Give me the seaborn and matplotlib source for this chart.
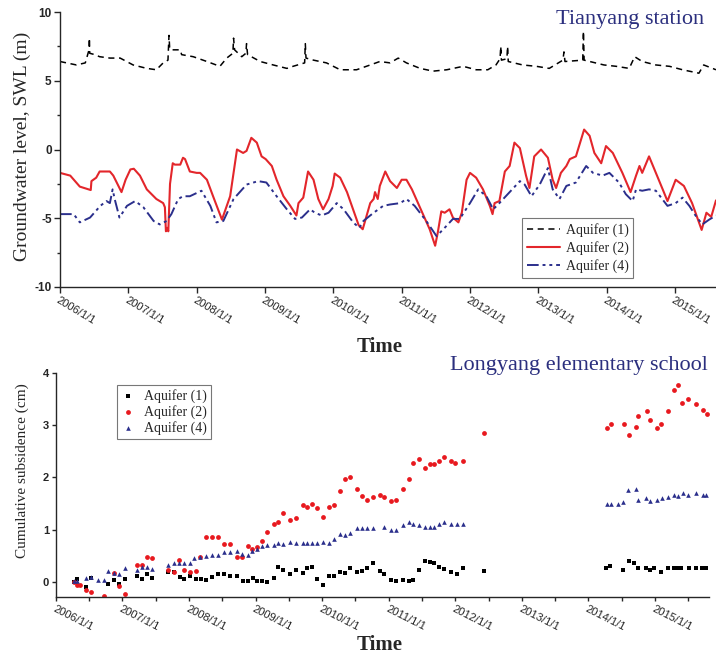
import numpy as np
import pandas as pd
import matplotlib
matplotlib.use("Agg")
import matplotlib.pyplot as plt
import seaborn as sns
from matplotlib.ticker import MultipleLocator, FixedLocator

# ---------------- data (decimal years) ----------------
year_ticks = [2006, 2007, 2008, 2009, 2010, 2011, 2012, 2013, 2014, 2015]
year_labels = ["2006/1/1", "2007/1/1", "2008/1/1", "2009/1/1", "2010/1/1",
               "2011/1/1", "2012/1/1", "2013/1/1", "2014/1/1", "2015/1/1"]

# Top panel: groundwater level (m)
aq1_t = [2006.00, 2006.24, 2006.37, 2006.425, 2006.43, 2006.435, 2006.51, 2006.58, 2006.73, 2006.88,
         2007.07, 2007.27, 2007.41, 2007.51, 2007.58, 2007.595, 2007.605, 2007.62, 2007.76, 2007.78,
         2007.95, 2008.15, 2008.34, 2008.44, 2008.53, 2008.54, 2008.555, 2008.66, 2008.72, 2008.73,
         2008.745, 2008.93, 2009.12, 2009.32, 2009.41, 2009.58, 2009.59, 2009.60, 2009.71, 2009.90,
         2010.10, 2010.34, 2010.54, 2010.68, 2010.83, 2010.95, 2011.07, 2011.27, 2011.46, 2011.66,
         2011.90, 2012.09, 2012.26, 2012.38, 2012.44, 2012.45, 2012.46, 2012.54, 2012.55, 2012.56,
         2012.77, 2012.97, 2013.16, 2013.36, 2013.375, 2013.39, 2013.65, 2013.66, 2013.67, 2013.96,
         2014.14, 2014.33, 2014.41, 2014.52, 2014.72, 2014.92, 2015.11, 2015.35, 2015.42, 2015.60]
aq1_v = [6.4, 6.15, 6.3, 7.25, 8.1, 7.0, 6.9, 6.75, 6.65, 6.65,
         6.15, 5.9, 5.8, 6.3, 6.5, 8.3, 7.35, 7.25, 7.25, 6.9,
         6.75, 6.4, 6.05, 6.65, 7.0, 8.1, 7.25, 6.75, 7.0, 7.7,
         6.9, 6.4, 6.15, 5.9, 6.05, 6.3, 7.7, 6.65, 6.5, 6.3,
         5.8, 5.8, 6.15, 6.4, 6.3, 6.65, 6.3, 5.9, 5.7, 5.8,
         6.05, 5.8, 5.8, 6.15, 6.6, 7.5, 6.5, 6.6, 7.5, 6.4,
         6.15, 6.05, 5.9, 6.5, 7.1, 6.4, 6.5, 8.6, 6.5, 6.15,
         6.05, 5.9, 6.75, 6.4, 6.15, 6.05, 5.8, 5.55, 6.15, 5.8]

aq2_t = [2006.00, 2006.15, 2006.29, 2006.45, 2006.46, 2006.53, 2006.58, 2006.73, 2006.78, 2006.90,
         2006.96, 2007.03, 2007.08, 2007.17, 2007.27, 2007.41, 2007.51, 2007.535, 2007.55, 2007.57,
         2007.585, 2007.61, 2007.65, 2007.68, 2007.76, 2007.80, 2007.83, 2007.90, 2008.00, 2008.05,
         2008.15, 2008.24, 2008.37, 2008.49, 2008.59, 2008.68, 2008.73, 2008.80, 2008.88, 2008.95,
         2009.01, 2009.10, 2009.17, 2009.27, 2009.37, 2009.46, 2009.49, 2009.56, 2009.63, 2009.71,
         2009.78, 2009.85, 2009.93, 2009.99, 2010.02, 2010.10, 2010.20, 2010.37, 2010.43, 2010.54,
         2010.59, 2010.61, 2010.65, 2010.68, 2010.76, 2010.83, 2010.93, 2011.00, 2011.07, 2011.15,
         2011.32, 2011.41, 2011.49, 2011.53, 2011.58, 2011.63, 2011.70, 2011.75, 2011.83, 2011.88,
         2011.95, 2012.00, 2012.09, 2012.19, 2012.29, 2012.33, 2012.36, 2012.43, 2012.51, 2012.58,
         2012.65, 2012.73, 2012.82, 2012.87, 2012.94, 2013.04, 2013.14, 2013.21, 2013.26, 2013.33,
         2013.41, 2013.46, 2013.55, 2013.67, 2013.75, 2013.82, 2013.92, 2013.99, 2014.09, 2014.23,
         2014.35, 2014.43, 2014.48, 2014.52, 2014.62, 2014.72, 2014.82, 2014.89, 2015.01, 2015.13,
         2015.25, 2015.39, 2015.46, 2015.53, 2015.60]
aq2_v = [-1.7, -1.9, -2.7, -2.95, -2.3, -2.05, -1.6, -1.6, -1.9, -3.1,
         -2.2, -1.45, -1.4, -1.9, -2.9, -3.6, -3.9, -4.2, -5.95, -5.7,
         -5.95, -2.5, -1.0, -1.1, -1.1, -0.6, -0.7, -1.6, -1.7, -1.7,
         -2.2, -3.4, -5.1, -3.4, 0.0, -0.25, -0.1, 0.85, 0.5, -0.5,
         -0.7, -1.2, -2.2, -3.4, -4.1, -4.8, -3.9, -3.5, -1.6, -2.2,
         -3.6, -4.35, -3.6, -2.65, -1.75, -2.05, -3.1, -5.5, -5.8, -3.9,
         -3.6, -3.1, -3.6, -2.65, -1.6, -2.3, -2.8, -2.2, -2.2, -2.9,
         -4.8, -5.8, -7.0, -6.0, -4.5, -4.6, -4.35, -4.95, -5.3, -4.6,
         -2.2, -1.7, -2.05, -2.9, -4.1, -4.7, -3.9, -3.75, -1.6, -1.2,
         0.5, 0.1, -1.9, -2.8, -0.5, 0.0, -0.6, -2.2, -2.8, -1.7,
         -1.2, -0.7, -0.5, 1.45, 1.0, -0.25, -1.0, 0.25, -0.25, -1.7,
         -3.1, -1.9, -1.2, -1.7, -0.5, -1.7, -2.9, -3.75, -2.2, -2.65,
         -3.9, -5.85, -4.6, -4.9, -3.7]

aq4_t = [2006.00, 2006.20, 2006.29, 2006.44, 2006.59, 2006.68, 2006.73, 2006.77, 2006.80, 2006.87,
         2006.98, 2007.10, 2007.22, 2007.37, 2007.46, 2007.56, 2007.63, 2007.73, 2007.80, 2007.90,
         2008.07, 2008.20, 2008.29, 2008.39, 2008.54, 2008.73, 2008.90, 2009.02, 2009.17, 2009.32,
         2009.44, 2009.54, 2009.66, 2009.73, 2009.83, 2009.93, 2010.05, 2010.15, 2010.29, 2010.38,
         2010.44, 2010.59, 2010.73, 2010.83, 2010.98, 2011.07, 2011.19, 2011.36, 2011.51, 2011.61,
         2011.75, 2011.85, 2012.00, 2012.12, 2012.24, 2012.34, 2012.43, 2012.58, 2012.73, 2012.80,
         2012.90, 2013.02, 2013.14, 2013.21, 2013.31, 2013.41, 2013.55, 2013.70, 2013.80, 2013.94,
         2014.04, 2014.18, 2014.28, 2014.38, 2014.43, 2014.52, 2014.62, 2014.72, 2014.89, 2015.01,
         2015.11, 2015.21, 2015.30, 2015.40, 2015.50, 2015.60]
aq4_v = [-4.7, -4.7, -5.3, -4.95, -4.1, -3.75, -3.9, -2.9, -3.6, -4.95,
         -4.1, -3.75, -4.2, -5.2, -5.45, -5.2, -4.7, -3.6, -3.4, -3.4,
         -3.0, -4.1, -5.3, -5.2, -3.6, -2.55, -2.3, -2.4, -3.4, -4.35,
         -5.05, -4.95, -4.35, -4.6, -4.8, -4.6, -3.9, -4.35, -5.3, -5.7,
         -5.2, -4.6, -4.1, -4.0, -3.9, -3.6, -4.1, -5.2, -6.3, -5.8,
         -5.05, -5.05, -3.9, -2.9, -3.4, -4.35, -3.9, -3.1, -2.3, -2.55,
         -3.4, -2.55, -1.35, -2.9, -3.6, -2.65, -2.4, -1.2, -1.7, -1.9,
         -1.7, -2.4, -3.25, -3.75, -2.9, -3.0, -2.9, -3.0, -4.1, -3.9,
         -3.5, -4.1, -4.8, -5.45, -5.1, -4.8]

# Bottom panel: cumulative subsidence (cm)
s1_t = [2006.27, 2006.32, 2006.45, 2006.53, 2006.79, 2006.87, 2006.95, 2007.04, 2007.22, 2007.30,
        2007.37, 2007.45, 2007.68, 2007.77, 2007.87, 2007.93, 2008.01, 2008.11, 2008.18, 2008.26,
        2008.35, 2008.43, 2008.53, 2008.61, 2008.72, 2008.81, 2008.88, 2008.96, 2009.02, 2009.10,
        2009.17, 2009.27, 2009.34, 2009.42, 2009.52, 2009.61, 2009.71, 2009.78, 2009.85, 2009.92,
        2010.02, 2010.10, 2010.18, 2010.27, 2010.34, 2010.42, 2010.52, 2010.60, 2010.68, 2010.76,
        2010.87, 2010.93, 2011.03, 2011.11, 2011.21, 2011.30, 2011.36, 2011.46, 2011.54, 2011.62,
        2011.68, 2011.76, 2011.83, 2011.94, 2012.02, 2012.11, 2012.43,
        2014.27, 2014.33, 2014.52, 2014.61, 2014.69, 2014.74, 2014.86, 2014.92, 2014.99, 2015.09,
        2015.19, 2015.29, 2015.34, 2015.39, 2015.51, 2015.61, 2015.71, 2015.76]
s1_v = [0.0, 0.05, -0.10, 0.08, -0.04, 0.04, -0.04, 0.05, 0.12, 0.05,
        0.15, 0.07, 0.19, 0.19, 0.10, 0.05, 0.12, 0.05, 0.05, 0.04,
        0.10, 0.15, 0.15, 0.12, 0.12, 0.02, 0.02, 0.07, 0.02, 0.02,
        -0.01, 0.07, 0.29, 0.23, 0.15, 0.23, 0.17, 0.27, 0.29, 0.05,
        -0.06, 0.12, 0.12, 0.19, 0.17, 0.27, 0.19, 0.20, 0.27, 0.36,
        0.20, 0.15, 0.04, 0.02, 0.04, 0.01, 0.04, 0.22, 0.40, 0.38,
        0.36, 0.29, 0.24, 0.19, 0.15, 0.26, 0.21,
        0.27, 0.31, 0.22, 0.40, 0.36, 0.27, 0.27, 0.22, 0.27, 0.18,
        0.27, 0.27, 0.27, 0.27, 0.27, 0.26, 0.26, 0.26]

s2_t = [2006.27, 2006.32, 2006.37, 2006.45, 2006.53, 2006.73, 2006.87, 2006.95, 2007.04, 2007.22,
        2007.30, 2007.37, 2007.45, 2007.68, 2007.77, 2007.85, 2007.93, 2008.01, 2008.11, 2008.17,
        2008.26, 2008.35, 2008.43, 2008.53, 2008.62, 2008.72, 2008.80, 2008.88, 2008.95, 2009.02,
        2009.10, 2009.17, 2009.27, 2009.34, 2009.42, 2009.52, 2009.61, 2009.71, 2009.78, 2009.85,
        2009.92, 2010.02, 2010.10, 2010.18, 2010.27, 2010.34, 2010.42, 2010.52, 2010.60, 2010.68,
        2010.76, 2010.87, 2010.93, 2011.03, 2011.11, 2011.21, 2011.30, 2011.36, 2011.46, 2011.54,
        2011.62, 2011.68, 2011.76, 2011.83, 2011.94, 2012.00, 2012.11, 2012.43,
        2014.28, 2014.34, 2014.53, 2014.61, 2014.71, 2014.74, 2014.88, 2014.93, 2015.03, 2015.09,
        2015.19, 2015.29, 2015.35, 2015.41, 2015.50, 2015.62, 2015.72, 2015.78]
s2_v = [0.0, -0.06, -0.06, -0.15, -0.20, -0.28, 0.17, -0.07, -0.23, 0.33,
        0.33, 0.48, 0.45, 0.23, 0.19, 0.42, 0.23, 0.19, 0.21, 0.47,
        0.85, 0.85, 0.85, 0.72, 0.72, 0.48, 0.48, 0.69, 0.63, 0.66,
        0.78, 0.95, 1.11, 1.15, 1.31, 1.19, 1.22, 1.47, 1.44, 1.49,
        1.42, 1.25, 1.44, 1.47, 1.74, 1.97, 2.00, 1.77, 1.65, 1.57,
        1.62, 1.67, 1.62, 1.54, 1.57, 1.77, 1.97, 2.28, 2.35, 2.18,
        2.25, 2.25, 2.32, 2.40, 2.32, 2.28, 2.32, 2.85,
        2.94, 3.02, 3.02, 2.81, 2.97, 3.18, 3.28, 3.10, 2.94, 3.02,
        3.27, 3.67, 3.77, 3.43, 3.50, 3.41, 3.30, 3.21]

s4_t = [2006.27, 2006.32, 2006.45, 2006.53, 2006.64, 2006.73, 2006.79, 2006.87, 2006.95, 2007.04,
        2007.22, 2007.30, 2007.37, 2007.45, 2007.68, 2007.77, 2007.85, 2007.93, 2008.01, 2008.08,
        2008.17, 2008.26, 2008.35, 2008.43, 2008.53, 2008.62, 2008.72, 2008.80, 2008.88, 2008.95,
        2009.02, 2009.10, 2009.17, 2009.27, 2009.34, 2009.42, 2009.52, 2009.61, 2009.71, 2009.78,
        2009.85, 2009.92, 2010.02, 2010.10, 2010.18, 2010.27, 2010.34, 2010.42, 2010.52, 2010.60,
        2010.68, 2010.76, 2010.93, 2011.03, 2011.11, 2011.21, 2011.30, 2011.36, 2011.46, 2011.54,
        2011.62, 2011.68, 2011.76, 2011.83, 2011.94, 2012.02, 2012.11,
        2014.28, 2014.34, 2014.44, 2014.52, 2014.60, 2014.71, 2014.74, 2014.87, 2014.93, 2015.03,
        2015.10, 2015.19, 2015.29, 2015.35, 2015.42, 2015.50, 2015.62, 2015.72, 2015.77]
s4_v = [0.01, 0.01, 0.07, 0.10, 0.04, 0.04, 0.21, 0.17, 0.15, 0.26,
        0.23, 0.29, 0.29, 0.24, 0.33, 0.36, 0.37, 0.37, 0.37, 0.45,
        0.47, 0.50, 0.52, 0.52, 0.57, 0.57, 0.59, 0.54, 0.52, 0.60,
        0.63, 0.68, 0.71, 0.71, 0.74, 0.72, 0.77, 0.75, 0.75, 0.75,
        0.75, 0.75, 0.77, 0.75, 0.82, 0.92, 0.89, 0.94, 1.03, 1.03,
        1.03, 1.03, 1.06, 1.00, 1.00, 1.08, 1.14, 1.11, 1.08, 1.06,
        1.06, 1.06, 1.10, 1.15, 1.10, 1.10, 1.10,
        1.49, 1.49, 1.49, 1.52, 1.75, 1.78, 1.57, 1.60, 1.54, 1.57,
        1.60, 1.62, 1.67, 1.65, 1.70, 1.67, 1.70, 1.67, 1.67]

series_labels = ["Aquifer (1)", "Aquifer (2)", "Aquifer (4)"]

# ---------------- style ----------------
sns.set_theme(style="ticks")
plt.rcParams['font.family'] = ['Liberation Serif', 'DejaVu Serif']
plt.rcParams['axes.linewidth'] = 1.0
plt.rcParams['axes.unicode_minus'] = False

RED = '#e3262b'
NAVY = '#2b2f8c'
TITLE = '#2b2f7e'

fig = plt.figure(figsize=(7.16, 6.57), dpi=100)
ax1 = fig.add_axes([0.0838, 0.5632, 0.9162, 0.4185])
ax2 = fig.add_axes([0.078, 0.0913, 0.912, 0.341])

# ---------- top panel ----------
sns.lineplot(x=aq1_t, y=aq1_v, ax=ax1, color='black', lw=1.1,
             linestyle=(0, (4, 3)), label=series_labels[0], sort=False, estimator=None)
sns.lineplot(x=aq2_t, y=aq2_v, ax=ax1, color=RED, lw=1.5,
             linestyle='-', label=series_labels[1], sort=False, estimator=None)
sns.lineplot(x=aq4_t, y=aq4_v, ax=ax1, color=NAVY, lw=1.4,
             linestyle=(0, (6, 2, 1.5, 2, 1.5, 2)), label=series_labels[2], sort=False, estimator=None)

ax1.set_xlim(2006.0, 2015.6)
ax1.set_ylim(-10, 10)
ax1.yaxis.set_major_locator(FixedLocator([-10, -5, 0, 5, 10]))
ax1.yaxis.set_minor_locator(MultipleLocator(2.5))
ax1.set_xticks(year_ticks)
ax1.set_xticklabels(year_labels, rotation=-31, ha='left', va='top',
                    rotation_mode='anchor', family='Liberation Sans', fontsize=8)
for lab in ax1.get_yticklabels():
    lab.set_family('Liberation Sans')
    lab.set_fontweight('bold')
    lab.set_fontsize(8.5)
ax1.tick_params(axis='both', which='major', length=4, width=1, direction='out', pad=2)
ax1.tick_params(axis='y', which='minor', length=2.5, width=1, direction='out')
ax1.set_xlabel('')
ax1.set_ylabel('')
sns.despine(ax=ax1)
leg1 = ax1.legend(loc='upper left', bbox_to_anchor=(0.704, 0.251), borderaxespad=0,
                  fontsize=10, frameon=True, fancybox=False, edgecolor='#555555',
                  handlelength=2.4, labelspacing=0.3, borderpad=0.35, handletextpad=0.4)
leg1.get_frame().set_linewidth(0.8)

# ---------- bottom panel ----------
sns.scatterplot(x=s1_t, y=s1_v, ax=ax2, color='black', marker='s', s=9,
                linewidth=0, label=series_labels[0])
sns.scatterplot(x=s2_t, y=s2_v, ax=ax2, color='#e8191f', marker='o', s=12,
                linewidth=0, label=series_labels[1])
sns.scatterplot(x=s4_t, y=s4_v, ax=ax2, color=NAVY, marker='^', s=11,
                linewidth=0, label=series_labels[2])

ax2.set_xlim(2006.0, 2015.81)
ax2.set_ylim(-0.29, 4.0)
ax2.yaxis.set_major_locator(FixedLocator([0, 1, 2, 3, 4]))
ax2.set_xticks(year_ticks)
ax2.xaxis.set_minor_locator(FixedLocator([y + 0.5 for y in year_ticks]))
ax2.set_xticklabels(year_labels, rotation=-27, ha='left', va='top',
                    rotation_mode='anchor', family='Liberation Sans', fontsize=8)
for lab in ax2.get_yticklabels():
    lab.set_family('Liberation Sans')
    lab.set_fontweight('bold')
    lab.set_fontsize(8)
ax2.tick_params(axis='both', which='both', length=3, width=1, direction='out', pad=2)
ax2.set_xlabel('')
ax2.set_ylabel('')
sns.despine(ax=ax2)
leg2 = ax2.legend(loc='upper left', bbox_to_anchor=(0.093, 0.946), borderaxespad=0,
                  fontsize=10, frameon=True, fancybox=False, edgecolor='#555555',
                  handlelength=1.0, labelspacing=0.15, borderpad=0.3, handletextpad=0.7,
                  markerscale=1.0)
leg2.get_frame().set_linewidth(0.8)

# ---------- texts ----------
fig.text(0.983, 0.9696, 'Tianyang station', ha='right', va='center', fontsize=16, color=TITLE)
fig.text(0.989, 0.4444, 'Longyang elementary school', ha='right', va='center', fontsize=16, color=TITLE)
fig.text(380 / 716, 1 - 347 / 657, 'Time', ha='center', va='center', fontsize=15, fontweight='bold')
fig.text(380 / 716, 1 - 645 / 657, 'Time', ha='center', va='center', fontsize=15, fontweight='bold')
fig.text(22 / 716, 1 - 146 / 657, 'Groundwater level, SWL (m)', rotation=90,
         ha='center', va='center', fontsize=14)
fig.text(22 / 716, 1 - 471 / 657, 'Cumulative subsidence (cm)', rotation=90,
         ha='center', va='center', fontsize=11)

fig.savefig('out.png', dpi=100)
